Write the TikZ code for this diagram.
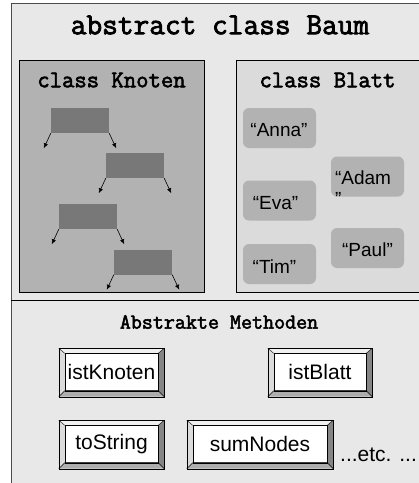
\documentclass[tikz,border=0pt]{standalone}
\usepackage{fontspec}
\setmainfont{Liberation Sans}
\newfontfamily\codefont[FakeBold=2.5]{Latin Modern Mono}
\usetikzlibrary{calc,arrows.meta}

% raised look around a method button
\newcommand{\methodbevel}[1]{%
  \fill[black!6] ($(#1.north west)+(-6,-5)$) -- ($(#1.north east)+(6,-5)$) -- (#1.north east) -- (#1.north west) -- cycle;
  \fill[black!14] ($(#1.north west)+(-6,-5)$) -- (#1.north west) -- (#1.south west) -- ($(#1.south west)+(-6,6)$) -- cycle;
  \fill[black!48] ($(#1.north east)+(6,-5)$) -- ($(#1.south east)+(6,6)$) -- (#1.south east) -- (#1.north east) -- cycle;
  \fill[black!32] ($(#1.south west)+(-6,6)$) -- ($(#1.south east)+(6,6)$) -- (#1.south east) -- (#1.south west) -- cycle;
  \draw[thin] ($(#1.north west)+(-6,-5)$) rectangle ($(#1.south east)+(6,6)$);
  \draw[thin] ($(#1.north west)+(-6,-5)$) -- (#1.north west)
              ($(#1.north east)+(6,-5)$) -- (#1.north east)
              ($(#1.south west)+(-6,6)$) -- (#1.south west)
              ($(#1.south east)+(6,6)$) -- (#1.south east);
  \draw[thin] (#1.north west) rectangle (#1.south east);
}

\begin{document}
\begin{tikzpicture}[x=1pt,y=-1pt]
        % Styles
        \tikzstyle{frame}=[draw=black!70,fill=black!9]
        \tikzstyle{class box}=[draw=black,line width=0.8pt]
        \tikzstyle{class title}=[font=\codefont\fontsize{24}{28}\selectfont]
        \tikzstyle{knot}=[fill=black!53,minimum width=58pt,minimum height=25pt,inner sep=0pt]
        \tikzstyle{pointer}=[-{Latex[length=5pt,width=4.5pt]},line width=0.6pt]
        \tikzstyle{leaf}=[rounded corners=6pt,fill=black!30,minimum width=73pt,minimum height=40pt,inner sep=0pt]
        \tikzstyle{leaf text}=[font=\fontsize{19}{22}\selectfont,inner sep=0pt]
        \tikzstyle{method}=[draw=black,fill=white,inner sep=0pt,minimum height=37pt,font=\fontsize{21}{24}\selectfont]
        \useasboundingbox (0,0) rectangle (419,483);
        \clip (0,0) rectangle (419,483);
        %the frame
        \draw[style=frame] (11,3) rectangle (430,495);
        \node[font=\codefont\fontsize{30.5}{34}\selectfont] (baum) at (220,25) {abstract class Baum};
        %class Knoten
        \draw[style=class box,fill=black!30] (19,60) rectangle (204,292);
        \node[style=class title] (knoten) at (111.5,80) {class Knoten};
        \foreach \n/\x/\y in {k1/80/120.5,k2/135/165.5,k3/88/216.5,k4/143/262} {
            \node[style=knot] (\n) at (\x,\y) {};
            \draw[style=pointer] (\n.south west) -- ++(-7,15);
            \draw[style=pointer] (\n.south east) -- ++(7,15);
        }
        %class Blatt
        \draw[style=class box,fill=black!14] (236,60) rectangle (430,292);
        \node[style=class title] (blatt) at (327.5,80) {class Blatt};
        \node[style=leaf] (anna) at (279.5,128) {};
        \node[style=leaf] (eva) at (279.5,200.5) {};
        \node[style=leaf] (tim) at (279.5,264) {};
        \node[style=leaf] (adam) at (367.5,176.5) {};
        \node[style=leaf] (paul) at (367.5,248) {};
        \node[style=leaf text] (anna text) at ($(anna)+(-0.5,2)$) {“Anna”};
        \node[style=leaf text] (eva text) at ($(eva)+(-4,2.5)$) {“Eva”};
        \node[style=leaf text] (tim text) at ($(tim)+(-5,3)$) {“Tim”};
        \node[style=leaf text] (paul text) at ($(paul)+(0,2)$) {“Paul”};
        \node[style=leaf text,anchor=north west,align=left] (adam text) at ($(adam.north west)+(4,14)$) {“Adam\\[-1pt]”};
        %methods
        \draw[line width=0.9pt] (11,300) -- (430,300);
        \node[font=\codefont\fontsize{21.4}{25}\selectfont] (methoden) at (219,322) {Abstrakte Methoden};
        \node[style=method,minimum width=93pt] (istknoten) at (111.5,372) {istKnoten};
        \node[style=method,minimum width=92pt] (istblatt) at (320,372) {istBlatt};
        \node[style=method,minimum width=93pt] (tostring) at (111.5,444) {toString};
        \node[style=method,minimum width=134pt] (sumnodes) at (260,444) {sumNodes};
        \foreach \n in {istknoten,istblatt,tostring,sumnodes}
            \methodbevel{\n};
        \node[anchor=west,inner sep=0pt,font=\fontsize{21}{24}\selectfont] (etc) at (340,455) {...etc. ...};
\end{tikzpicture}
\end{document}
